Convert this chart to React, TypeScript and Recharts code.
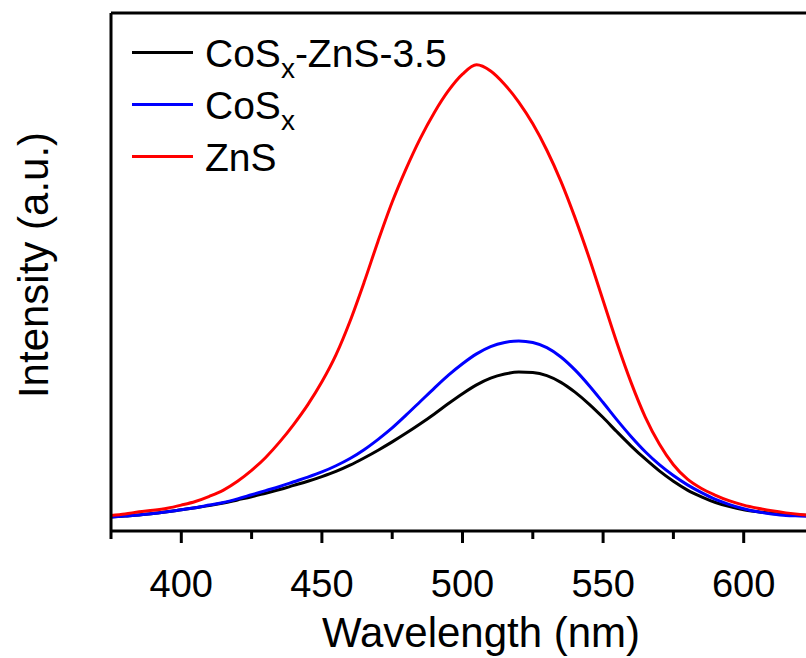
import { LineChart, Line, XAxis, YAxis, ReferenceLine, Legend } from 'recharts';

// Photoluminescence spectra, sampled every 5 nm
const wavelengths = [
  375, 380, 385, 390, 395, 400, 405, 410, 415, 420, 425, 430, 435, 440, 445, 450, 455, 460, 465, 470, 475,
  480, 485, 490, 495, 500, 505, 510, 515, 520, 525, 530, 535, 540, 545, 550, 555, 560, 565, 570, 575, 580,
  585, 590, 595, 600, 605, 610, 615, 620, 625,
];

const cosxZns35 = [
  2.7, 2.9, 3.1, 3.4, 3.7, 4.1, 4.5, 4.9, 5.4, 6.0, 6.6, 7.3, 8.0, 8.8, 9.6, 10.5, 11.5, 12.7, 14.1, 15.6, 17.2,
  18.9, 20.7, 22.6, 24.6, 26.5, 28.2, 29.5, 30.3, 30.7, 30.6, 30.0, 28.7, 26.8, 24.5, 21.9, 19.1, 16.4, 13.9, 11.6,
  9.6, 7.9, 6.6, 5.5, 4.7, 4.1, 3.7, 3.4, 3.2, 3.1, 3.0,
];

const cosx = [
  2.7, 2.9, 3.1, 3.4, 3.7, 4.1, 4.5, 5.0, 5.5, 6.2, 7.0, 7.8, 8.6, 9.5, 10.4, 11.4, 12.6, 14.0, 15.7, 17.7, 19.9,
  22.4, 25.0, 27.6, 30.1, 32.3, 34.2, 35.6, 36.4, 36.7, 36.4, 35.4, 33.6, 31.1, 28.1, 24.8, 21.4, 18.2, 15.3, 12.8,
  10.7, 8.9, 7.4, 6.1, 5.1, 4.3, 3.7, 3.3, 3.0, 2.9, 2.8,
];

const zns = [
  3.0, 3.3, 3.7, 4.0, 4.4, 5.0, 5.7, 6.7, 7.9, 9.6, 11.7, 14.2, 17.2, 20.6, 24.4, 28.8, 34.0, 40.5, 48.0, 56.0, 63.5,
  70.0, 75.8, 80.8, 85.0, 88.2, 90.0, 88.8, 86.2, 82.8, 78.6, 73.5, 67.5, 60.5, 52.8, 44.5, 36.2, 28.6, 22.0, 16.8,
  12.8, 10.0, 8.2, 6.9, 5.8, 5.0, 4.4, 3.9, 3.5, 3.2, 3.0,
];

const xTicks = [375, 400, 425, 450, 475, 500, 525, 550, 575, 600, 625];
const xLabels = [400, 450, 500, 550, 600];

const data = wavelengths.map((nm, i) => ({
  nm,
  cosxZns35: cosxZns35[i],
  cosx: cosx[i],
  zns: zns[i],
}));

const FONT = '"Liberation Sans", Arial, Helvetica, sans-serif';

const series = [
  { key: 'cosxZns35', color: '#000000', name: ['CoS', 'x', '-ZnS-3.5'] },
  { key: 'cosx', color: '#0000ff', name: ['CoS', 'x', ''] },
  { key: 'zns', color: '#ff0000', name: ['ZnS', '', ''] },
];

function WavelengthTick(props: any) {
  const { x, y, payload } = props;
  const major = xLabels.includes(payload.value);
  return (
    <g>
      <line x1={x} x2={x} y1={y} y2={y + (major ? 12 : 8)} stroke="#000" strokeWidth={3} />
      {major && (
        <text x={x} y={y + 66} textAnchor="middle" fontSize={38} fontFamily={FONT} fill="#000">
          {payload.value}
        </text>
      )}
    </g>
  );
}

function IntensityLabel() {
  return (
    <text
      x={48}
      y={265}
      transform="rotate(-90, 48, 265)"
      textAnchor="middle"
      fontSize={42}
      fontFamily={FONT}
      fill="#000"
    >
      Intensity (a.u.)
    </text>
  );
}

function WavelengthLabel() {
  return (
    <text x={481} y={647} textAnchor="middle" fontSize={42} fontFamily={FONT} fill="#000">
      Wavelength (nm)
    </text>
  );
}

function SpectraLegend() {
  return (
    <div style={{ fontFamily: FONT, fontSize: 39, color: '#000' }}>
      {series.map((s) => (
        <div key={s.key} style={{ display: 'flex', alignItems: 'center', height: 52, lineHeight: '52px' }}>
          <span style={{ display: 'inline-block', width: 61, height: 3, background: s.color, marginRight: 12, position: 'relative', top: -2 }} />
          <span style={{ whiteSpace: 'nowrap' }}>
            {s.name[0]}
            {s.name[1] && (
              <span style={{ fontSize: 28, position: 'relative', top: 11, lineHeight: 0 }}>{s.name[1]}</span>
            )}
            {s.name[2]}
          </span>
        </div>
      ))}
    </div>
  );
}

export default function App() {
  return (
    <div
      style={{
        position: 'absolute',
        left: 0,
        top: 0,
        width: 806,
        height: 658,
        overflow: 'hidden',
        background: '#fff',
      }}
    >
      <LineChart width={816} height={658} data={data} margin={{ top: 13, right: 2, left: 0, bottom: 0 }}>
        <XAxis
          dataKey="nm"
          type="number"
          domain={[375, 625]}
          ticks={xTicks}
          interval={0}
          height={127}
          tickSize={0}
          tickMargin={0}
          tickLine={false}
          axisLine={{ stroke: '#000', strokeWidth: 3 }}
          tick={<WavelengthTick />}
          label={<WavelengthLabel />}
        />
        <YAxis
          type="number"
          domain={[0, 100]}
          width={111}
          tick={false}
          tickLine={false}
          axisLine={{ stroke: '#000', strokeWidth: 3 }}
          label={<IntensityLabel />}
        />
        <ReferenceLine y={100} stroke="#000" strokeWidth={3} />
        <Legend
          layout="horizontal"
          verticalAlign="middle"
          align="center"
          wrapperStyle={{ top: 28, left: 132, width: 'auto' }}
          content={<SpectraLegend />}
        />
        {series.map((s) => (
          <Line
            key={s.key}
            dataKey={s.key}
            type="monotone"
            stroke={s.color}
            strokeWidth={3}
            dot={false}
            isAnimationActive={false}
          />
        ))}
      </LineChart>
    </div>
  );
}
